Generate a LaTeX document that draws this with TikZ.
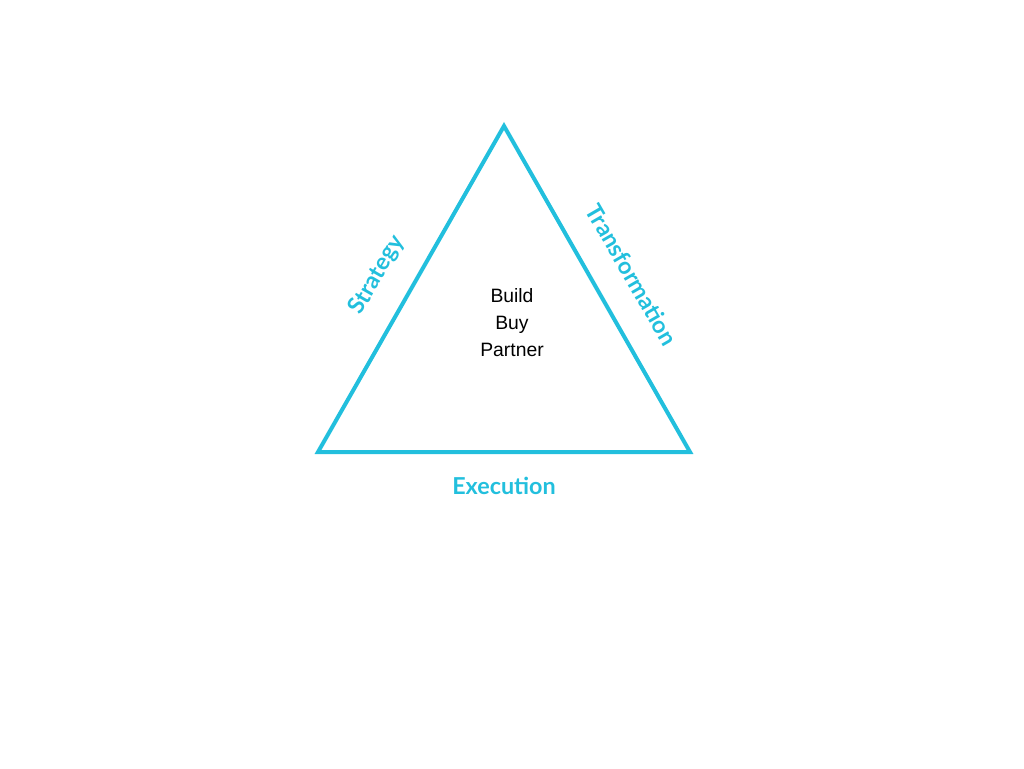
\documentclass[tikz,border=0pt]{standalone}
\usepackage{fontspec}
\setmainfont{Liberation Sans}
\newfontfamily\labelfont{Lato}
\definecolor{tricyan}{HTML}{22BFDD}
\tikzset{
  sidelabel/.style={text=tricyan, inner sep=1pt, font=\labelfont\bfseries\fontsize{17.5}{20}\selectfont},
  centerlabel/.style={text=black, align=center, font=\fontsize{14.5}{20.25}\selectfont}
}

\begin{document}
\begin{tikzpicture}[x=0.75pt,y=-0.75pt]
\useasboundingbox (0,0) rectangle (1024,768);

\coordinate (top) at (504,126);
\coordinate (left) at (318,452);
\coordinate (right) at (690,452);

\draw [tricyan, line width=3pt, line join=miter] (top)--(left)--(right)--cycle;

\node [sidelabel, rotate=60] (strategy) at (377,275) {Strategy};
\node [sidelabel, rotate=-60] (transformation) at (632,275) {Transformation};
\node [sidelabel] (execution) at (504,486) {Execution};

\node [centerlabel] (options) at (512,323) {Build\\Buy\\Partner};
\end{tikzpicture}
\end{document}
